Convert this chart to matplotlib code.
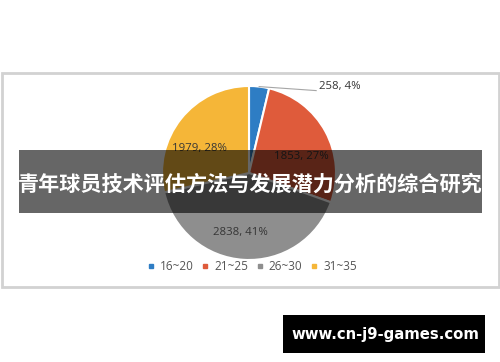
import matplotlib
matplotlib.use("Agg")
import matplotlib.pyplot as plt
from matplotlib.patches import Rectangle
from matplotlib.lines import Line2D
import numpy as np

categories = ['16~20', '21~25', '26~30', '31~35']
values = [258, 1853, 2838, 1979]
pct_labels = ['4%', '27%', '41%', '28%']
colors = ['#2e7dc4', '#df5b3b', '#8e8e8e', '#f5b638']
title = '青年球员技术评估方法与发展潜力分析的综合研究'
site = 'www.cn-j9-games.com'

# label layout ("best fit" placement): angle tweak (deg) and radius fraction
label_angle_tweak = [0, -11, -5, 12.5]
label_radius = [1.0, 0.63, 0.69, 0.63]

W, H = 500, 362
fig = plt.figure(figsize=(5, 3.62), dpi=100)
ax = fig.add_axes([0, 0, 1, 1])


def Y(py):
    return H - py


cx, cy, R = 249, Y(173), 87
wedges, _ = ax.pie(values, colors=colors, startangle=90, counterclock=False,
                   center=(cx, cy), radius=R,
                   wedgeprops=dict(edgecolor='white', linewidth=1.5))
ax.set_xlim(0, W)
ax.set_ylim(0, H)
ax.set_aspect('auto')
ax.axis('off')

# outer chart border
ax.add_patch(Rectangle((1.5, Y(286.5)), 497, 214, fill=False, ec='#d2d2d2', lw=2, zorder=0))

lab_font = dict(fontsize=8.2, color='#353535', family='Open Sans')
for i, w in enumerate(wedges):
    mid_deg = (w.theta1 + w.theta2) / 2
    txt = f'{values[i]}, {pct_labels[i]}'
    if values[i] / sum(values) < 0.05:
        mid = np.deg2rad(mid_deg)
        x0 = cx + R * np.cos(mid)
        y0 = cy + R * np.sin(mid)
        x1, y1 = x0 + 57, y0 - 4
        ax.plot([x0, x1], [y0, y1], color='#a6a6a6', lw=0.8, zorder=3)
        ax.text(x1 + 3, y1 + 4, txt, ha='left', va='center', zorder=3, **lab_font)
    else:
        a = np.deg2rad(mid_deg + label_angle_tweak[i])
        d = label_radius[i] * R
        ax.text(cx + d * np.cos(a), cy + d * np.sin(a), txt,
                ha='center', va='center', zorder=3, **lab_font)

handles = [Line2D([], [], marker='s', ls='none', color=c, markersize=3.5) for c in colors]
ax.legend(handles, categories, loc='center', bbox_to_anchor=(252 / W, Y(267) / H),
          ncol=4, frameon=False, handlelength=0.6, handletextpad=0.45,
          columnspacing=0.7, prop=dict(size=8.5, family='Open Sans'),
          labelcolor='#555555')

# dark title banner
ax.add_patch(Rectangle((19, Y(213)), 463, 63, fc='black', alpha=0.6, ec='none', zorder=5))
ax.text(250, Y(184), title, color='white', fontsize=15.2, fontweight='bold',
        family=['Noto Sans CJK SC', 'DejaVu Sans'], ha='center', va='center', zorder=6)

# site box
ax.add_patch(Rectangle((283, Y(353)), 202, 38, fc='black', ec='none', zorder=5))
ax.text(385, Y(334), site, color='white', fontsize=10.7, fontweight='bold',
        family='DejaVu Sans', ha='center', va='center', zorder=6)

fig.savefig('out.png', dpi=100)
